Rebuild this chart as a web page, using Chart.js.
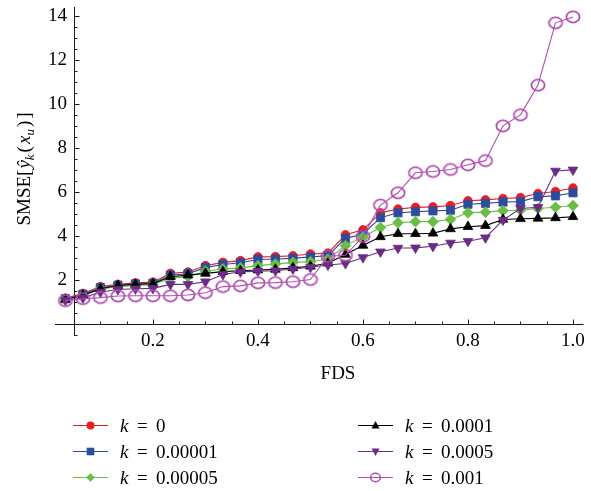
<!DOCTYPE html>
<html>
<head>
<meta charset="utf-8">
<script src="https://cdn.jsdelivr.net/npm/chart.js@4.4.1/dist/chart.umd.min.js"></script>
<style>
html,body{margin:0;padding:0;background:#fff;}
canvas{display:block;}
</style>
</head>
<body>
<canvas id="c" width="591" height="491"></canvas>
<script>
// ---- data ----
const fds = [0.0333,0.0667,0.1,0.1333,0.1667,0.2,0.2333,0.2667,0.3,0.3333,0.3667,0.4,0.4333,0.4667,0.5,
             0.5333,0.5667,0.6,0.6333,0.6667,0.7,0.7333,0.7667,0.8,0.8333,0.8667,0.9,0.9333,0.9667,1.0];

const k0      = [1.17,1.39,1.70,1.80,1.87,1.90,2.30,2.36,2.65,2.80,2.88,3.05,3.06,3.10,3.18,
                 3.22,4.05,4.28,5.05,5.22,5.30,5.32,5.38,5.60,5.64,5.70,5.74,5.93,6.02,6.18];
const k00001  = [1.15,1.35,1.65,1.76,1.82,1.85,2.22,2.28,2.56,2.70,2.78,2.93,2.95,2.98,3.05,
                 3.10,3.89,4.08,4.83,5.05,5.10,5.14,5.17,5.44,5.48,5.54,5.56,5.78,5.82,5.96];
const k00005  = [1.12,1.30,1.58,1.70,1.75,1.78,2.08,2.15,2.40,2.50,2.55,2.65,2.72,2.80,2.83,
                 2.95,3.56,3.95,4.38,4.60,4.65,4.65,4.75,5.05,5.08,5.15,5.17,5.25,5.30,5.38];
const k0001   = [1.12,1.30,1.60,1.75,1.80,1.83,2.15,2.22,2.30,2.38,2.42,2.45,2.48,2.55,2.62,
                 2.76,3.16,3.57,3.96,4.10,4.10,4.12,4.32,4.42,4.47,4.75,4.78,4.80,4.82,4.87];
const k0005   = [1.08,1.18,1.45,1.57,1.60,1.62,1.80,1.80,1.92,2.25,2.37,2.40,2.42,2.50,2.58,
                 2.68,2.75,3.02,3.28,3.45,3.46,3.53,3.68,3.76,3.92,4.72,5.25,5.30,6.95,7.00];
const k001    = [1.06,1.15,1.20,1.27,1.28,1.28,1.28,1.32,1.42,1.70,1.73,1.87,1.88,1.92,2.02,
                 3.08,3.12,3.98,5.40,5.96,6.87,6.93,7.02,7.23,7.42,9.00,9.50,10.85,13.68,13.95];

const kLabels = ['0','0.00001','0.00005','0.0001','0.0005','0.001'];
const seriesValues = [k0, k00001, k00005, k0001, k0005, k001];

const xTickLabelStep = 0.2;   // labelled ticks 0.2 ... 1.0
const yTickLabelStep = 2;     // labelled ticks 2 ... 14
const xMinorStep = 0.05;
const yMinorStep = 0.5;
const xAxisCrossing = 0.05;   // where the vertical axis sits
const yAxisCrossing = 0;      // where the horizontal axis sits

// ---- styles ----
const colors = ['#ec1c24', '#2d4c9e', '#6abd45', '#000000', '#6b2c86', '#b04db0'];
const FONT = '"Liberation Serif", "DejaVu Serif", serif';

function ringImage(w, h, rx, ry, lw, color) {
  const c = document.createElement('canvas');
  c.width = w; c.height = h;
  const g = c.getContext('2d');
  g.strokeStyle = color; g.lineWidth = lw;
  g.beginPath(); g.ellipse(w/2, h/2, rx, ry, 0, 0, Math.PI*2); g.stroke();
  return c;
}
const ring = ringImage(18, 16, 6.6, 5.6, 1.7, colors[5]);

const pointStyles = ['circle', 'rect', 'rectRot', 'triangle', 'triangle', ring];
const pointRadii  = [4.3, 5.8, 5.4, 5.6, 5.6, 7];
const pointRot    = [0, 0, 0, 0, 180, 0];

const datasets = seriesValues.map((vals, i) => ({
  label: 'k = ' + kLabels[i],
  data: fds.map((x, j) => ({x: x, y: vals[j]})),
  borderColor: colors[i],
  backgroundColor: colors[i],
  borderWidth: 1.1,
  pointStyle: pointStyles[i],
  pointRadius: pointRadii[i],
  pointRotation: pointRot[i],
  pointBackgroundColor: colors[i],
  pointBorderColor: colors[i],
  pointBorderWidth: i === 5 ? 0 : 0.8,
  tension: 0,
  clip: false,
  order: 5 - i
}));

// ---- custom drawing: Mathematica-style axes, titles, legend ----
function drawMarker(ctx, idx, x, y) {
  const col = colors[idx];
  ctx.save();
  ctx.fillStyle = col; ctx.strokeStyle = col;
  ctx.beginPath();
  if (idx === 0) { ctx.arc(x, y, 4, 0, Math.PI*2); ctx.fill(); }
  else if (idx === 1) { ctx.rect(x-3.8, y-3.8, 7.6, 7.6); ctx.fill(); }
  else if (idx === 2) { ctx.moveTo(x, y-4.3); ctx.lineTo(x+4.3, y); ctx.lineTo(x, y+4.3); ctx.lineTo(x-4.3, y); ctx.closePath(); ctx.fill(); }
  else if (idx === 3) { ctx.moveTo(x, y-4.5); ctx.lineTo(x+4, y+3); ctx.lineTo(x-4, y+3); ctx.closePath(); ctx.fill(); }
  else if (idx === 4) { ctx.moveTo(x, y+4.5); ctx.lineTo(x+4, y-3); ctx.lineTo(x-4, y-3); ctx.closePath(); ctx.fill(); }
  else { ctx.lineWidth = 1.5; ctx.ellipse(x, y, 4.8, 4.2, 0, 0, Math.PI*2); ctx.stroke(); }
  ctx.restore();
}

const mmaPlugin = {
  id: 'mma',
  beforeDatasetsDraw(chart) {
    const ctx = chart.ctx, xs = chart.scales.x, ys = chart.scales.y;
    const xa = Math.round(xs.getPixelForValue(xAxisCrossing)) + 0.5;
    const ya = Math.round(ys.getPixelForValue(yAxisCrossing)) + 0.5;
    ctx.save();
    ctx.strokeStyle = '#1a1a1a';
    ctx.lineWidth = 1;
    ctx.beginPath();
    ctx.moveTo(xs.getPixelForValue(xs.min), ya);
    ctx.lineTo(xs.getPixelForValue(xs.max), ya);
    ctx.moveTo(xa, ys.getPixelForValue(-0.55));
    ctx.lineTo(xa, ys.getPixelForValue(ys.max));
    for (let n = 1; n * xMinorStep <= 1.0001; n++) {
      const v = n * xMinorStep;
      const major = Math.abs(v / xTickLabelStep - Math.round(v / xTickLabelStep)) < 1e-6;
      const px = Math.round(xs.getPixelForValue(v)) + 0.5;
      ctx.moveTo(px, ya);
      ctx.lineTo(px, ya - (major ? 5 : 3));
    }
    for (let n = -1; n * yMinorStep <= 14.0001; n++) {
      if (n === 0) continue;
      const v = n * yMinorStep;
      const major = v > 0 && Math.abs(v / yTickLabelStep - Math.round(v / yTickLabelStep)) < 1e-6;
      const py = Math.round(ys.getPixelForValue(v)) + 0.5;
      ctx.moveTo(xa, py);
      ctx.lineTo(xa + (major ? 5 : 3), py);
    }
    ctx.stroke();
    ctx.restore();
  },
  afterDraw(chart) {
    const ctx = chart.ctx;
    ctx.save();
    ctx.fillStyle = '#000';
    ctx.textBaseline = 'alphabetic';

    ctx.font = '19px ' + FONT;
    ctx.textAlign = 'center';
    ctx.fillText('FDS', 338, 379);

    const parts = [
      {t: 'SMSE[', f: '19px ' + FONT, dy: 0, gap: 0},
      {t: 'ŷ', f: 'italic 19px ' + FONT, dy: 0, gap: 1},
      {t: 'k', f: 'italic 13px ' + FONT, dy: 4, gap: 0},
      {t: '(', f: '19px ' + FONT, dy: 0, gap: 2},
      {t: 'x', f: 'italic 19px ' + FONT, dy: 0, gap: 2},
      {t: 'u', f: 'italic 13px ' + FONT, dy: 4, gap: 0},
      {t: ')', f: '19px ' + FONT, dy: 0, gap: 2},
      {t: ']', f: '19px ' + FONT, dy: 0, gap: 2}
    ];
    let total = 0;
    parts.forEach(p => { ctx.font = p.f; p.w = ctx.measureText(p.t).width; total += p.w + p.gap; });
    ctx.translate(30, 169);
    ctx.rotate(-Math.PI / 2);
    ctx.textAlign = 'left';
    let cx = -total / 2;
    parts.forEach(p => { cx += p.gap; ctx.font = p.f; ctx.fillText(p.t, cx, p.dy); cx += p.w; });
    ctx.setTransform(1, 0, 0, 1, 0, 0);

    const cols = [73, 358];
    const rows = [425, 451, 477];
    for (let i = 0; i < 6; i++) {
      const lx = cols[Math.floor(i / 3)];
      const ly = rows[i % 3];
      ctx.strokeStyle = colors[i];
      ctx.lineWidth = 1.1;
      ctx.beginPath();
      ctx.moveTo(lx, ly + 0.5);
      ctx.lineTo(lx + 35, ly + 0.5);
      ctx.stroke();
      drawMarker(ctx, i, lx + 17.5, ly + 0.5);
      ctx.fillStyle = '#000';
      ctx.textAlign = 'left';
      ctx.font = 'italic 19px ' + FONT;
      ctx.fillText('k', lx + 47, ly + 6.5);
      ctx.font = '19px ' + FONT;
      ctx.fillText('=', lx + 64, ly + 6.5);
      ctx.fillText(kLabels[i], lx + 83, ly + 6.5);
    }
    ctx.restore();
  }
};

new Chart(document.getElementById('c'), {
  type: 'line',
  data: { datasets: datasets },
  options: {
    responsive: false,
    animation: false,
    events: [],
    layout: { padding: { left: 0, top: 7, right: 7, bottom: 0 } },
    plugins: { legend: { display: false }, tooltip: { enabled: false }, title: { display: false } },
    scales: {
      x: {
        type: 'linear',
        min: 0.0135,
        max: 1.02,
        grid: { display: false, drawTicks: false },
        border: { display: false },
        ticks: {
          stepSize: xTickLabelStep,
          includeBounds: false,
          autoSkip: false,
          maxRotation: 0,
          padding: 6,
          color: '#000',
          font: { family: FONT, size: 19 },
          callback: v => Number(v).toFixed(1)
        },
        afterFit: s => { s.height = 167; }
      },
      y: {
        type: 'linear',
        min: 0,
        max: 14.4,
        grid: { display: false, drawTicks: false },
        border: { display: false },
        ticks: {
          stepSize: yTickLabelStep,
          includeBounds: false,
          autoSkip: false,
          padding: -12,
          color: '#000',
          font: { family: FONT, size: 19 },
          callback: v => (v === 0 ? '' : String(v))
        },
        afterFit: s => {
          s.width = 55;
          // labels sit just left of the axis at x = 0.05, inside the plot box: do not clip them
          s._computeLabelArea = function () { return undefined; };
        }
      }
    }
  },
  plugins: [mmaPlugin]
});
</script>
</body>
</html>
